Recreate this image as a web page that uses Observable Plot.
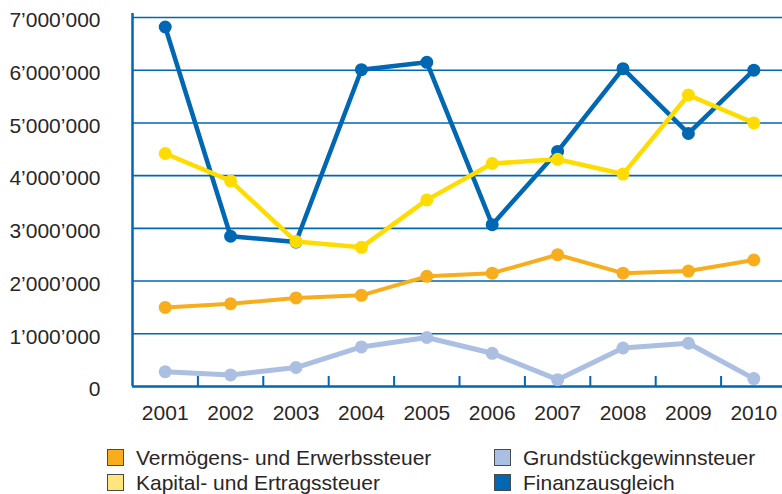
<!DOCTYPE html>
<html>
<head>
<meta charset="utf-8">
<script src="https://cdn.jsdelivr.net/npm/d3@7"></script>
<script src="https://cdn.jsdelivr.net/npm/@observablehq/plot@0.6"></script>
<style>
  html, body { margin: 0; padding: 0; background: #fff; }
  #wrap { position: relative; width: 782px; height: 494px; overflow: hidden; font-family: "Liberation Sans", Arial, Helvetica, sans-serif; color: #2a2627; }
  .item { position: absolute; display: flex; align-items: center; font-size: 21px; height: 17px; line-height: 17px; white-space: nowrap; }
  .sw { width: 15px; height: 15px; border: 1px solid #4a4a4a; margin-right: 12px; flex: none; }
</style>
</head>
<body>
<div id="wrap"><div id="chart"></div><div id="legend"></div></div>
<script>
const years = [2001, 2002, 2003, 2004, 2005, 2006, 2007, 2008, 2009, 2010];
const vermoegen = [1500000, 1570000, 1680000, 1730000, 2090000, 2150000, 2500000, 2150000, 2190000, 2400000];
const kapital   = [4420000, 3900000, 2750000, 2640000, 3540000, 4230000, 4310000, 4030000, 5530000, 5000000];
const grund     = [280000, 220000, 360000, 750000, 930000, 630000, 130000, 730000, 820000, 150000];
const finanz    = [6820000, 2850000, 2740000, 6010000, 6150000, 3070000, 4460000, 6030000, 4800000, 6000000];
const yTicks = [0, 1000000, 2000000, 3000000, 4000000, 5000000, 6000000, 7000000];
const seriesNames = ["Vermögens- und Erwerbssteuer", "Kapital- und Ertragssteuer", "Grundstückgewinnsteuer", "Finanzausgleich"];
const lineColors = ["#f8ad1d", "#ffdc00", "#abbfe2", "#0067b2"];
const swatchColors = ["#f8ad1d", "#ffe57d", "#abbfe2", "#0067b2"];

const blue = "#0067b2";
const x0 = years[0] - 0.5, x1 = years[years.length - 1] + 0.5;
const bounds = years.slice(1).map(y => y - 0.5);
const toRows = vals => years.map((year, i) => ({year, value: vals[i]}));
const fmt = d => d3.format(",")(d).replace(/,/g, "’");

const order = [[vermoegen, 0, 4], [grund, 2, 5], [finanz, 3, 4.5], [kapital, 1, 4.5]];
const marks = [
  Plot.ruleY(yTicks.slice(1), {x1: x0, x2: x1, stroke: blue, strokeWidth: 1.6}),
  Plot.ruleY([0], {x1: x0, x2: x1, stroke: blue, strokeWidth: 2.5}),
  Plot.ruleX([x0], {y1: 0, y2: 0, insetTop: -373, stroke: blue, strokeWidth: 2.5}),
  Plot.ruleX(bounds, {y1: 0, y2: 0, insetTop: -10, stroke: blue, strokeWidth: 2}),
  Plot.axisX({ticks: years, tickFormat: d => String(d), tickSize: 0, tickPadding: 19, fontSize: 21, fill: "#2a2627"}),
  Plot.axisY({ticks: yTicks, tickFormat: fmt, tickSize: 0, tickPadding: 32, fontSize: 21, dy: 3, fill: "#2a2627"})
];
for (const [vals, ci, sw] of order) {
  marks.push(Plot.line(toRows(vals), {x: "year", y: "value", stroke: lineColors[ci], strokeWidth: sw}));
  marks.push(Plot.dot(toRows(vals), {x: "year", y: "value", fill: lineColors[ci], r: 6.5}));
}

const chart = Plot.plot({
  width: 782,
  height: 430,
  marginTop: 17,
  marginBottom: 44,
  marginLeft: 132,
  marginRight: 0,
  style: {fontFamily: "'Liberation Sans', Arial, Helvetica, sans-serif", fontSize: "21px", color: "#2a2627", background: "#fff", overflow: "visible"},
  x: {type: "linear", domain: [x0, x1], range: [132, 786], label: null},
  y: {domain: [0, 7000000], label: null},
  marks
});
document.getElementById("chart").appendChild(chart);

const legendPos = [[107, 449], [107, 474], [494, 449], [494, 474]];
const legend = document.getElementById("legend");
seriesNames.forEach((name, i) => {
  const it = document.createElement("div");
  it.className = "item";
  it.style.left = legendPos[i][0] + "px";
  it.style.top = legendPos[i][1] + "px";
  const s = document.createElement("span");
  s.className = "sw";
  s.style.background = swatchColors[i];
  const t = document.createElement("span");
  t.textContent = name;
  it.appendChild(s); it.appendChild(t);
  legend.appendChild(it);
});
</script>
</body>
</html>
